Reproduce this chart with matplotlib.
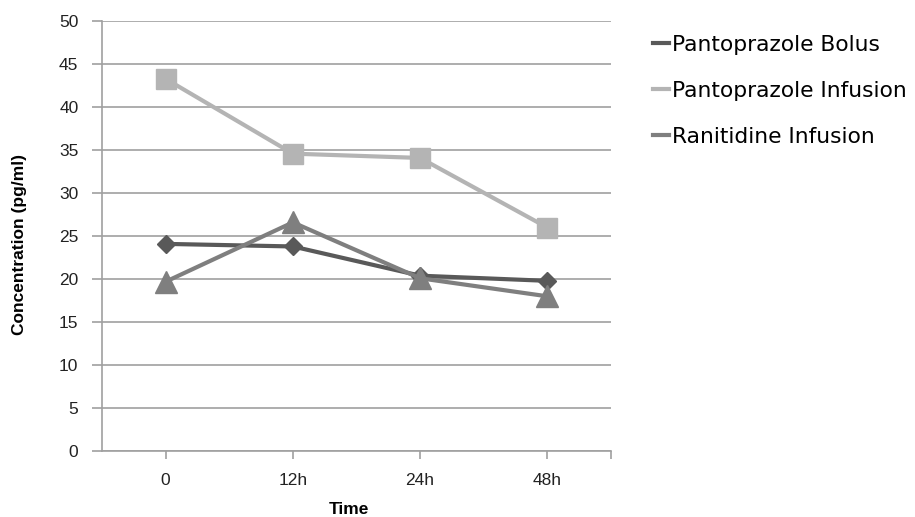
import matplotlib
matplotlib.use("Agg")
import matplotlib.pyplot as plt
from matplotlib.lines import Line2D

# concentration over time per treatment group
time_labels = ["0", "12h", "24h", "48h"]
bolus = [24.1, 23.8, 20.4, 19.8]
infusion = [43.3, 34.6, 34.1, 26.0]
ranitidine = [19.7, 26.6, 20.1, 18.0]

series = [
    ("Pantoprazole Bolus", bolus, "#595959", "D", 9),
    ("Pantoprazole Infusion", infusion, "#b4b4b4", "s", 15),
    ("Ranitidine Infusion", ranitidine, "#7f7f7f", "^", 16),
]

plt.rcParams["font.family"] = ["Liberation Sans", "DejaVu Sans"]

fig = plt.figure(figsize=(9.15, 5.17), dpi=100)
ax = fig.add_axes([102 / 915, 1 - 451 / 517, (611 - 102) / 915, (451 - 21.3) / 517])

x = list(range(len(time_labels)))
for name, vals, col, mk, ms in series:
    ax.plot(x, vals, color=col, lw=3, marker=mk, markersize=ms, zorder=3)

ax.set_xlim(-0.5, 3.5)
ax.set_ylim(0, 50)
ax.set_yticks(range(0, 51, 5))
ax.set_xticks(x + [3.5])
ax.set_xticklabels(time_labels + [""])
ax.yaxis.grid(True, color="#a0a0a0", lw=1.2)
ax.set_axisbelow(True)

for s in ["top", "right"]:
    ax.spines[s].set_visible(False)
for s in ["left", "bottom"]:
    ax.spines[s].set_color("#a0a0a0")
    ax.spines[s].set_linewidth(1.2)
ax.tick_params(axis="both", colors="#a0a0a0", width=1.2, labelcolor="#222222", labelsize=12.5)
ax.tick_params(axis="y", length=7, pad=10)
ax.tick_params(axis="x", length=6, pad=10)

ax.set_ylabel("Concentration (pg/ml)", fontsize=12.5, fontweight="bold")
ax.yaxis.set_label_coords(-0.147, 0.48)
ax.set_xlabel("Time", fontsize=12.5, fontweight="bold")
ax.xaxis.set_label_coords(0.485, -0.119)

handles = [Line2D([0], [0], color=c, lw=3) for _, _, c, _, _ in series]
fig.legend(handles, [s[0] for s in series], loc="upper left", bbox_to_anchor=(0.692, 0.971),
           frameon=False, handlelength=0.72, handletextpad=0.18, labelspacing=1.2,
           prop={"family": "DejaVu Sans", "size": 15.7})

fig.savefig("out.png", dpi=100)
